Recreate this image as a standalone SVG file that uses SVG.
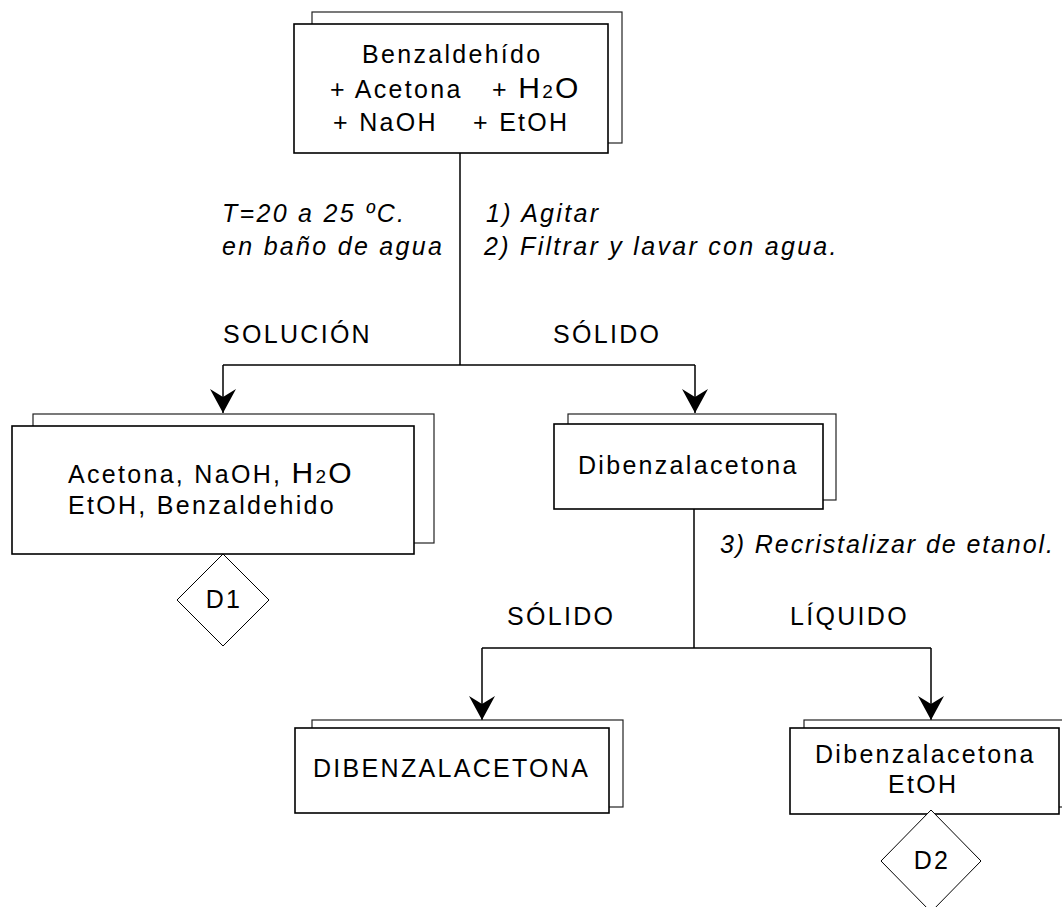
<svg xmlns="http://www.w3.org/2000/svg" width="1062" height="907" viewBox="0 0 1062 907">
<defs>
<style>
.back{fill:#fff;stroke:#222;stroke-width:1.2}
.front{fill:#fff;stroke:#000;stroke-width:1.6}
.dia{fill:#fff;stroke:#000;stroke-width:1}
.t{font-family:"Liberation Sans",Arial,sans-serif;font-size:25px;letter-spacing:2.3px;fill:#000}
.i{font-style:italic}
.big{font-size:30px;letter-spacing:2.3px}
.sub{font-size:19px}
.con{fill:none;stroke:#000;stroke-width:1.5}
</style>
<marker id="ah" viewBox="-25 -14 26 28" refX="0" refY="0" markerWidth="26" markerHeight="28" markerUnits="userSpaceOnUse" orient="auto">
<path d="M0 0 L-24 -13 L-16 0 L-24 13 Z" fill="#000"/>
</marker>
</defs>
<rect width="1062" height="907" fill="#fff"/>

<g id="connectors">
<path class="con" d="M460 153 V365"/>
<path class="con" d="M223 365 H695"/>
<path class="con" d="M223 365 V413" marker-end="url(#ah)"/>
<path class="con" d="M695 365 V413" marker-end="url(#ah)"/>
<path class="con" d="M694 509 V648"/>
<path class="con" d="M482 648 H931"/>
<path class="con" d="M482 648 V720" marker-end="url(#ah)"/>
<path class="con" d="M931 648 V720" marker-end="url(#ah)"/>
</g>

<g id="labels">
<text class="t i" x="222" y="222">T=20 a 25 ºC.</text>
<text class="t i" x="222" y="255">en baño de agua</text>
<text class="t i" x="486" y="222">1) Agitar</text>
<text class="t i" x="484" y="255">2) Filtrar y lavar con agua.</text>
<text class="t" x="223" y="343">SOLUCIÓN</text>
<text class="t" x="553" y="343">SÓLIDO</text>
<text class="t i" x="720" y="553" style="letter-spacing:1.9px">3) Recristalizar de etanol.</text>
<text class="t" x="507" y="625">SÓLIDO</text>
<text class="t" x="790" y="625">LÍQUIDO</text>
</g>

<g id="n-start">
<rect class="back" x="312" y="12" width="310" height="131"/>
<rect class="front" x="294" y="24" width="314" height="129"/>
<text class="t" x="362" y="63">Benzaldehído</text>
<text class="t" x="330" y="98">+ Acetona</text>
<text class="t" x="492" y="98">+ <tspan class="big">H</tspan><tspan class="sub">2</tspan><tspan class="big">O</tspan></text>
<text class="t" x="333" y="131">+ NaOH</text>
<text class="t" x="473" y="131">+ EtOH</text>
</g>

<g id="n-solucion">
<rect class="back" x="33" y="414" width="401" height="129"/>
<rect class="front" x="12" y="426" width="402" height="128"/>
<text class="t" x="68" y="483">Acetona, NaOH, <tspan class="big">H</tspan><tspan class="sub">2</tspan><tspan class="big">O</tspan></text>
<text class="t" x="68" y="514">EtOH, Benzaldehido</text>
</g>

<g id="n-d1">
<polygon class="dia" points="223,554 269,600 223,646 177,600"/>
<text class="t" x="224" y="608" text-anchor="middle">D1</text>
</g>

<g id="n-solido">
<rect class="back" x="568" y="414" width="268" height="86"/>
<rect class="front" x="554" y="424" width="269" height="85"/>
<text class="t" x="578" y="474">Dibenzalacetona</text>
</g>

<g id="n-producto">
<rect class="back" x="312" y="720" width="311" height="87"/>
<rect class="front" x="295" y="728" width="314" height="85"/>
<text class="t" x="313" y="777">DIBENZALACETONA</text>
</g>

<g id="n-liquido">
<rect class="back" x="804" y="720" width="280" height="87"/>
<rect class="front" x="790" y="728" width="269" height="86"/>
<text class="t" x="815" y="763">Dibenzalacetona</text>
<text class="t" x="888" y="793">EtOH</text>
</g>

<g id="n-d2">
<polygon class="dia" points="931,810 981,861 931,912 881,861"/>
<text class="t" x="932" y="869" text-anchor="middle">D2</text>
</g>
</svg>
